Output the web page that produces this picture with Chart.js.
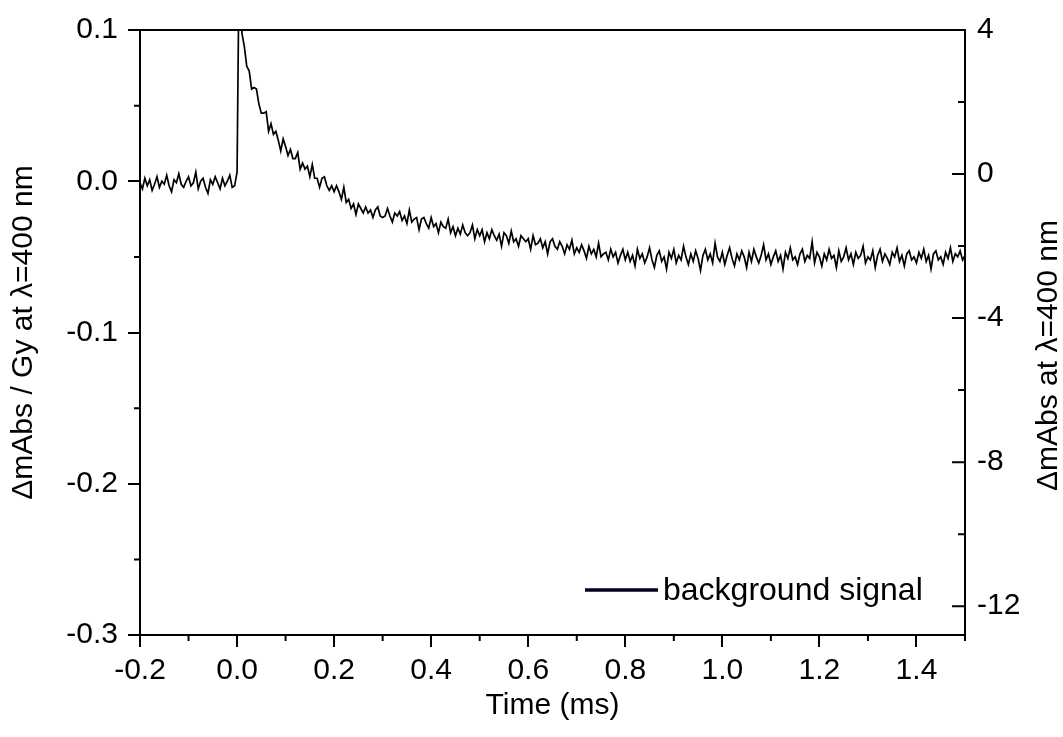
<!DOCTYPE html>
<html><head><meta charset="utf-8">
<script src="https://cdn.jsdelivr.net/npm/chart.js@4.4.1/dist/chart.umd.min.js"></script>
<style>html,body{margin:0;padding:0;background:#fff;}canvas{display:block;}</style>
</head><body>
<canvas id="c" width="1063" height="737"></canvas>
<script>
const seriesLabel = 'background signal';
const timeStart = -0.2;   // ms, first sample
const timeStep = 0.005;   // ms between samples
// ΔmAbs/Gy values
const signalPre = [-.001,-.005,.002,-.003,.001,-.006,-.002,.003,-.004,0,
 -.002,.004,-.003,-.007,.001,-.001,.005,-.002,-.004,0,
 .003,-.003,-.001,.006,-.005,0,.002,-.004,-.008,.001,
 -.002,.003,-.001,-.005,.002,-.003,0,.004,-.004,-.003];
const signalPulse = [.006,.170,.098];
const signalDecay = [.089,.076,.073,.061,.062,.061,.051,.045,.045,.046,
 .033,.038,.031,.033,.027,.020,.028,.023,.017,.021,
 .015,.015,.019,.008,.012,.008,.010,.003,.011,.002,
 .002,-.004,.002,.003,-.003,-.006,-.003,-.007,-.003,-.007,
 -.012,-.004,-.014,-.012,-.018,-.015,-.022,-.015,-.018,-.021,
 -.017,-.021,-.019,-.024,-.019,-.017,-.023,-.024];
const signalSlow = [-.023,-.018,-.023,-.027,-.021,-.023,-.020,-.026,-.023,-.028,
 -.019,-.027,-.025,-.024,-.032,-.025,-.024,-.028,-.031,-.024,
 -.030,-.028,-.034,-.027,-.030,-.031,-.025,-.034,-.030,-.036,
 -.031,-.035,-.029,-.034,-.036,-.034,-.029,-.038,-.032,-.036,
 -.032,-.040,-.034,-.038,-.032,-.036,-.039,-.035,-.043,-.034,
 -.036,-.041,-.033,-.040,-.038,-.043,-.036,-.038,-.040,-.038,
 -.045,-.036,-.042,-.041,-.038,-.044,-.040,-.048,-.040,-.038,
 -.043,-.045,-.040,-.043,-.048,-.042,-.045,-.039,-.048,-.044,
 -.047,-.042,-.046,-.051,-.043,-.048,-.045,-.050,-.041,-.050,
 -.048,-.047,-.052,-.045,-.050,-.047,-.054,-.049,-.045,-.052];
const signalTail = [-.047,-.053,-.049,-.056,-.045,-.051,-.048,-.054,-.050,-.044,
 -.052,-.057,-.049,-.046,-.053,-.050,-.058,-.047,-.051,-.045,
 -.054,-.049,-.052,-.043,-.050,-.055,-.048,-.053,-.046,-.051,
 -.059,-.049,-.045,-.052,-.048,-.054,-.041,-.050,-.053,-.047,
 -.055,-.049,-.044,-.051,-.056,-.048,-.052,-.046,-.050,-.057,
 -.047,-.053,-.045,-.050,-.054,-.049,-.042,-.052,-.048,-.055,
 -.050,-.046,-.053,-.049,-.058,-.047,-.051,-.044,-.052,-.050,
 -.055,-.048,-.045,-.053,-.049,-.051,-.040,-.054,-.047,-.050,
 -.056,-.048,-.052,-.045,-.051,-.049,-.057,-.046,-.053,-.050,
 -.044,-.052,-.048,-.055,-.047,-.051,-.049,-.043,-.054,-.050,
 -.052,-.046,-.057,-.049,-.045,-.053,-.048,-.051,-.055,-.047,
 -.050,-.044,-.053,-.049,-.056,-.048,-.046,-.052,-.050,-.054,
 -.047,-.051,-.045,-.053,-.049,-.058,-.048,-.046,-.052,-.050,
 -.055,-.047,-.051,-.044,-.053,-.048,-.050,-.046,-.052,-.049];

const xTickValues = [-0.2,0,0.2,0.4,0.6,0.8,1.0,1.2,1.4];
const xMinorTicks = [-0.1,0.1,0.3,0.5,0.7,0.9,1.1,1.3,1.5];
const yLeftTicks = [0.1,0,-0.1,-0.2,-0.3];
const yLeftMinor = [0.05,-0.05,-0.15,-0.25];
const yRightTicks = [4,0,-4,-8,-12];
const yRightMinor = [2,-2,-6,-10];
const xTitle = 'Time (ms)';
const yLeftTitle = 'ΔmAbs / Gy at λ=400 nm';
const yRightTitle = 'ΔmAbs at λ=400 nm';

const signal = [].concat(signalPre, signalPulse, signalDecay, signalSlow, signalTail);
const points = signal.map((v, i) => ({x: +(timeStart + i * timeStep).toFixed(3), y: v}));

const FONT = 'Liberation Sans, Arial, sans-serif';
Chart.defaults.font.family = FONT;
Chart.defaults.color = '#000';

const decor = {
  id: 'decor',
  afterDraw(chart) {
    const ctx = chart.ctx, ca = chart.chartArea;
    const sx = chart.scales.x, sy = chart.scales.y, sr = chart.scales.y2;
    ctx.save();
    ctx.strokeStyle = '#000';
    ctx.lineWidth = 2;
    ctx.beginPath();
    ctx.moveTo(ca.left - 1, ca.top); ctx.lineTo(ca.right + 1, ca.top);
    xMinorTicks.forEach(v => { const p = sx.getPixelForValue(v); ctx.moveTo(p, ca.bottom); ctx.lineTo(p, ca.bottom + 6); });
    yLeftMinor.forEach(v => { const p = sy.getPixelForValue(v); ctx.moveTo(ca.left - 6, p); ctx.lineTo(ca.left, p); });
    yRightTicks.forEach(v => { const p = sr.getPixelForValue(v); ctx.moveTo(ca.right - 13, p); ctx.lineTo(ca.right, p); });
    yRightMinor.forEach(v => { const p = sr.getPixelForValue(v); ctx.moveTo(ca.right - 7, p); ctx.lineTo(ca.right, p); });
    ctx.stroke();
    // right axis title (reads bottom to top)
    ctx.fillStyle = '#000';
    ctx.font = '30px ' + FONT;
    ctx.textAlign = 'center';
    ctx.textBaseline = 'alphabetic';
    ctx.translate(ca.right + 92, (ca.top + ca.bottom) / 2 + 23);
    ctx.rotate(-Math.PI / 2);
    ctx.fillText(yRightTitle, 0, 0);
    ctx.restore();
    // legend inside plot
    ctx.save();
    const ds = chart.data.datasets[0];
    const ly = ca.bottom - 45;
    ctx.strokeStyle = '#000022';
    ctx.lineWidth = 3.5;
    ctx.beginPath();
    ctx.moveTo(ca.right - 380, ly); ctx.lineTo(ca.right - 307, ly);
    ctx.stroke();
    ctx.fillStyle = '#000';
    ctx.font = '32px ' + FONT;
    ctx.textAlign = 'left';
    ctx.textBaseline = 'alphabetic';
    ctx.fillText(ds.label, ca.right - 302, ly + 10);
    ctx.restore();
  }
};

new Chart(document.getElementById('c'), {
  type: 'line',
  data: { datasets: [{
    label: seriesLabel, data: points, yAxisID: 'y',
    borderColor: '#000', borderWidth: 1.7, pointRadius: 0, tension: 0, fill: false
  }]},
  options: {
    responsive: false, animation: false, parsing: true,
    layout: { padding: { top: 28, left: 0, right: 0, bottom: 0 } },
    plugins: { legend: { display: false }, tooltip: { enabled: false } },
    scales: {
      x: {
        type: 'linear', position: 'bottom', min: -0.2, max: 1.5,
        afterBuildTicks: s => { s.ticks = xTickValues.map(v => ({value: v})); },
        afterFit: s => { s.height = 102; },
        ticks: { font: { size: 30 }, color: '#000', padding: 6, maxRotation: 0, autoSkip: false,
                 callback: v => Number(v).toFixed(1) },
        grid: { display: true, drawOnChartArea: false, drawTicks: true, tickLength: 12, color: '#000', lineWidth: 2 },
        border: { display: true, color: '#000', width: 2 },
        title: { display: true, text: xTitle, font: { size: 30 }, color: '#000', padding: { top: 0, bottom: 13 } }
      },
      y: {
        type: 'linear', position: 'left', min: -0.3, max: 0.1,
        afterBuildTicks: s => { s.ticks = yLeftTicks.map(v => ({value: v})); },
        afterFit: s => { s.width = 140; },
        ticks: { font: { size: 30 }, color: '#000', padding: 10, autoSkip: false,
                 callback: v => Number(v).toFixed(1) },
        grid: { display: true, drawOnChartArea: false, drawTicks: true, tickLength: 12, color: '#000', lineWidth: 2 },
        border: { display: true, color: '#000', width: 2 },
        title: { display: true, text: yLeftTitle, font: { size: 30 }, color: '#000', padding: { top: 6, bottom: 0 } }
      },
      y2: {
        type: 'linear', position: 'right', min: -12.8, max: 4,
        afterBuildTicks: s => { s.ticks = yRightTicks.map(v => ({value: v})); },
        afterFit: s => { s.width = 98; },
        ticks: { font: { size: 30 }, color: '#000', padding: 12, autoSkip: false,
                 callback: v => String(v) },
        grid: { display: false, drawOnChartArea: false, drawTicks: false },
        border: { display: true, color: '#000', width: 2 },
        title: { display: false }
      }
    }
  },
  plugins: [decor]
});
</script>
</body></html>
